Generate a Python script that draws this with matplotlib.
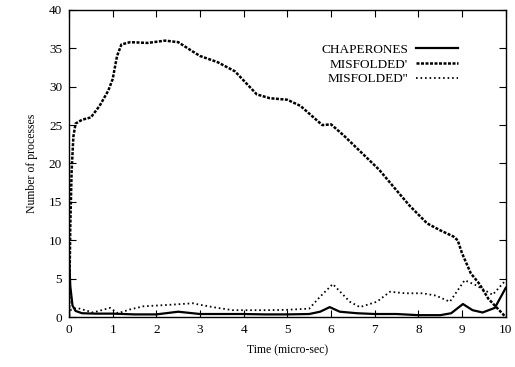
import numpy as np
import matplotlib
matplotlib.use("Agg")
import matplotlib.pyplot as plt

# values
chap_t = [0.0, 0.03, 0.08, 0.15, 0.3, 0.6, 1.0, 1.5, 2.0, 2.5, 3.0, 3.5, 4.0, 4.5, 5.0,
          5.5, 5.75, 5.97, 6.2, 6.6, 7.0, 7.5, 8.0, 8.5, 8.75, 9.02, 9.24, 9.47, 9.75, 10.0]
chap_v = [8.0, 4.0, 1.5, 0.8, 0.5, 0.45, 0.45, 0.35, 0.35, 0.7, 0.4, 0.4, 0.4, 0.35, 0.35,
          0.4, 0.7, 1.3, 0.7, 0.5, 0.4, 0.4, 0.25, 0.25, 0.5, 1.7, 0.9, 0.6, 1.2, 3.8]

mis1_t = [0.0, 0.03, 0.06, 0.1, 0.15, 0.3, 0.5, 0.7, 0.9, 1.0, 1.1, 1.2, 1.4, 1.8, 2.2,
          2.5, 2.8, 3.0, 3.4, 3.8, 4.0, 4.3, 4.6, 5.0, 5.3, 5.6, 5.8, 6.0, 6.3, 6.7,
          7.1, 7.5, 7.8, 8.2, 8.5, 8.8, 8.9, 9.0, 9.2, 9.4, 9.6, 9.8, 10.0]
mis1_v = [0.0, 12.0, 19.0, 23.5, 25.2, 25.7, 26.0, 27.5, 29.5, 31.0, 34.0, 35.5, 35.8, 35.7, 36.0,
          35.8, 34.7, 34.0, 33.2, 32.0, 30.8, 29.0, 28.5, 28.3, 27.5, 26.0, 25.0, 25.1, 23.6, 21.4,
          19.2, 16.5, 14.5, 12.2, 11.3, 10.5, 10.0, 8.3, 5.7, 4.3, 2.4, 1.2, 0.0]

mis2_t = [0.0, 0.05, 0.18, 0.55, 0.94, 1.12, 1.4, 1.7, 2.3, 2.84, 3.0, 3.4, 3.75, 4.5, 5.0,
          5.5, 5.74, 6.04, 6.43, 6.66, 7.05, 7.35, 7.7, 8.1, 8.4, 8.72, 9.06, 9.3, 9.52, 9.7, 10.0]
mis2_v = [0.3, 1.0, 1.2, 0.6, 1.2, 0.5, 1.0, 1.4, 1.6, 1.8, 1.6, 1.2, 0.9, 0.9, 0.95,
          1.1, 2.6, 4.3, 2.0, 1.3, 2.0, 3.3, 3.1, 3.1, 2.8, 2.0, 4.8, 4.2, 3.5, 2.9, 4.8]

labels = ["CHAPERONES", "MISFOLDED'", "MISFOLDED''"]

plt.rcParams['font.family'] = ['Liberation Serif', 'DejaVu Serif']

fig = plt.figure(figsize=(5.15, 3.67), dpi=100)
ax = fig.add_axes([0.134, 0.136, 0.848, 0.837])

ax.plot(chap_t, chap_v, color='black', linewidth=1.6, label=labels[0])
ax.plot(mis1_t, mis1_v, color='black', linewidth=1.8, linestyle=(0, (1.2, 0.6)), label=labels[1])
ax.plot(mis2_t, mis2_v, color='black', linewidth=1.3, linestyle=(0, (0.9, 1.6)), label=labels[2])

ax.set_xlim(0, 10)
ax.set_ylim(0, 40)
ax.set_xticks(range(0, 11))
ax.set_yticks(range(0, 41, 5))
ax.tick_params(direction='in', top=True, right=True, length=5, labelsize=9.5, pad=5)
for s in ax.spines.values():
    s.set_linewidth(1.0)

ax.set_xlabel("Time (micro-sec)", fontsize=8.5, labelpad=6)
ax.set_ylabel("Number of processes", fontsize=8.5, labelpad=8)

leg = ax.legend(loc='upper right', bbox_to_anchor=(0.903, 0.908), frameon=False,
                markerfirst=False, fontsize=9.5, handlelength=3.2, handletextpad=0.6,
                labelspacing=0.2, borderaxespad=0)

fig.savefig("out.png", dpi=100)
